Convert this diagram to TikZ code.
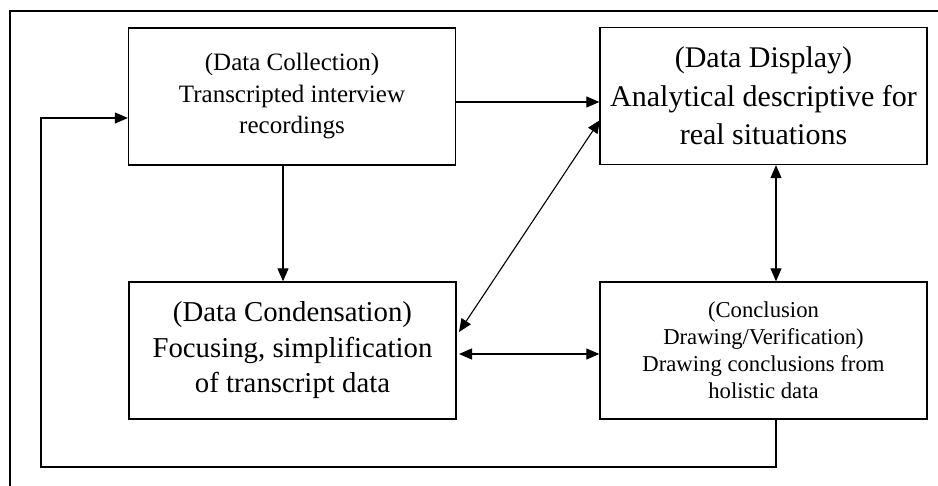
\documentclass[tikz,border=0pt]{standalone}
\usepackage{fontspec}
\setmainfont{Liberation Serif}
\usetikzlibrary{arrows.meta}
\begin{document}
\begin{tikzpicture}[x=1pt,y=-1pt,
  box/.style={draw,line width=1.3pt,minimum width=327pt,minimum height=137pt,align=center,inner sep=0pt,anchor=center},
  arr/.style={line width=1.1pt,-{Triangle[length=13pt,width=11pt]}},
  darr/.style={line width=1.1pt,{Triangle[length=13pt,width=11pt]}-{Triangle[length=13pt,width=11pt]}}]
\useasboundingbox (0,0) rectangle (938,486);
\draw[line width=1.5pt] (10,486) -- (10,11) -- (938,11);
\node[box,font=\fontsize{25}{31.5}\selectfont] (coll) at (292,96.5) {(Data Collection)\\Transcripted interview\\recordings};
\node[box,font=\fontsize{30}{38.5}\selectfont] (disp) at (763.5,96) {(Data Display)\\Analytical descriptive for\\real situations};
\node[box,font=\fontsize{28.8}{35.5}\selectfont] (cond) at (292.5,350.5) {(Data Condensation)\\Focusing, simplification\\of transcript data};
\node[box,font=\fontsize{22.7}{27}\selectfont] (concl) at (763.5,350.5) {(Conclusion\\Drawing/Verification)\\Drawing conclusions from\\holistic data};
\coordinate (c1) at (776,467);
\coordinate (c2) at (41,467);
\coordinate (c3) at (41,118);
\draw[arr] (concl.south -| c1) -- (c1) -- (c2) -- (c3) -- (coll.west |- c3);
\draw[arr] (coll.east |- 0,102) -- (disp.west |- 0,102);
\draw[arr] (coll.south -| 283,0) -- (cond.north -| 283,0);
\coordinate (d1) at (459,332);
\coordinate (d2) at (600,120);
\draw[darr] (d1) -- (d2);
\coordinate (h1) at (459,354);
\draw[darr] (h1) -- (concl.west |- h1);
\draw[darr] (disp.south -| c1) -- (concl.north -| c1);
\end{tikzpicture}
\end{document}
